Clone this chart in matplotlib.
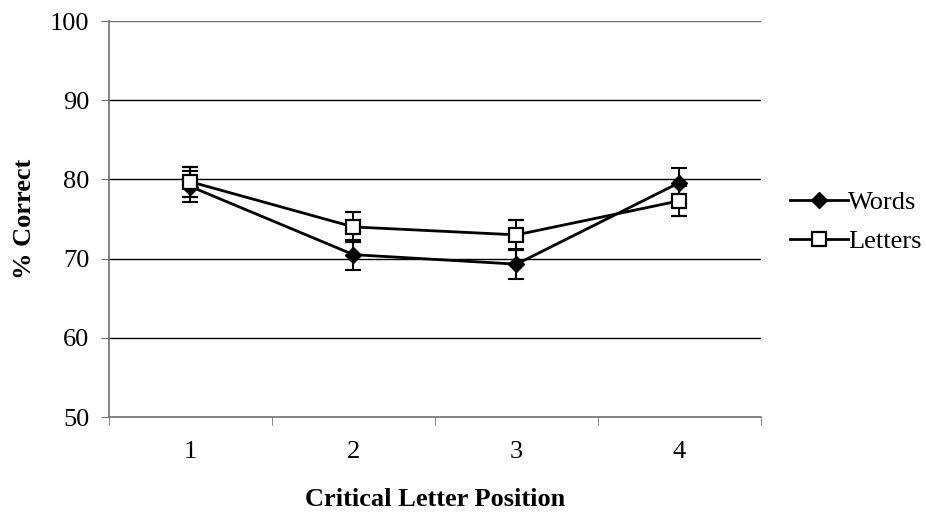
import numpy as np
import matplotlib.pyplot as plt

plt.rcParams['font.family'] = 'Liberation Serif'

# Data
positions = [1, 2, 3, 4]
words = [79.1, 70.5, 69.3, 79.6]
words_err = [1.9, 1.9, 1.9, 1.9]
letters = [79.7, 74.0, 73.0, 77.3]
letters_err = [1.9, 1.9, 1.9, 1.9]

fig = plt.figure(figsize=(9.26, 5.14), dpi=100)
ax = fig.add_axes([0.1177, 0.1887, 0.7041, 0.7704])

ax.errorbar(positions, words, yerr=words_err, color='black', lw=2,
            marker='D', ms=8, mfc='black', mec='black',
            capsize=5.5, capthick=1.5, elinewidth=1.5, label='Words', zorder=3)
ax.errorbar(positions, letters, yerr=letters_err, color='black', lw=2,
            marker='s', ms=10, mfc='white', mec='black', mew=1.6,
            capsize=5.5, capthick=1.5, elinewidth=1.5, label='Letters', zorder=4)

ax.set_xlim(0.5, 4.5)
ax.set_ylim(50, 100)
ax.set_yticks(np.arange(50, 101, 10))
ax.set_xticks([1, 2, 3, 4])
ax.set_xticks([0.5, 1.5, 2.5, 3.5, 4.5], minor=True)
ax.tick_params(axis='x', which='major', length=0, pad=17, labelsize=19)
ax.tick_params(axis='x', which='minor', length=6, direction='out', color='#707070')
ax.tick_params(axis='y', length=6, direction='out', color='#707070', labelsize=19, pad=8)

for v in [60, 70, 80, 90, 100]:
    ax.axhline(v, color='black' if v < 100 else '#707070', lw=1, zorder=1)

for s in ['top', 'right']:
    ax.spines[s].set_visible(False)
for s in ['left', 'bottom']:
    ax.spines[s].set_color('#707070')
    ax.spines[s].set_linewidth(1.2)

ax.set_ylabel('% Correct', fontsize=19, fontweight='bold', labelpad=10)
ax.set_xlabel('Critical Letter Position', fontsize=19, fontweight='bold', labelpad=18)

handles, labels = ax.get_legend_handles_labels()
handles = [h[0] for h in handles]
fig.legend(handles, labels, loc='center left', bbox_to_anchor=(0.842, 0.568),
           borderaxespad=0, frameon=False, fontsize=19, handlelength=2.2,
           handletextpad=0.0, labelspacing=0.6)

fig.savefig('out.png', dpi=100)
